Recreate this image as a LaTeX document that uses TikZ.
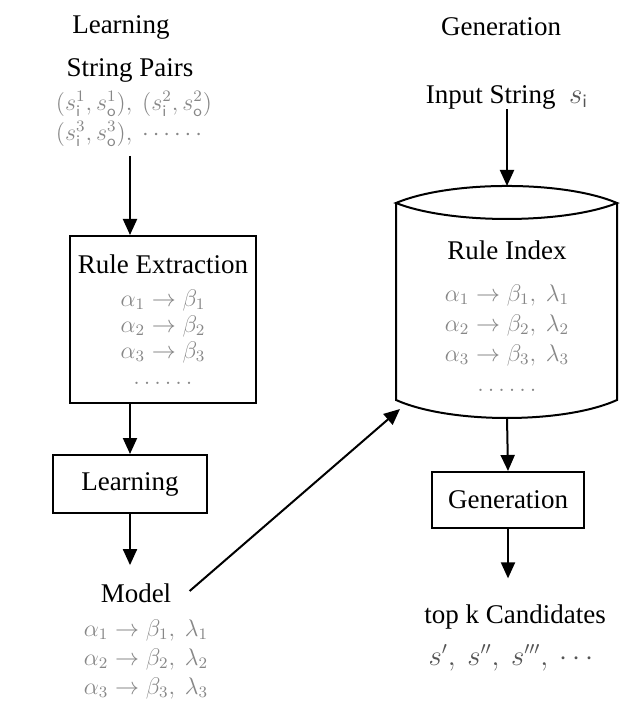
\documentclass[tikz,border=0pt]{standalone}
\usepackage{fontspec}
\setmainfont{Liberation Serif}
\usetikzlibrary{arrows.meta}
\definecolor{mathgray}{RGB}{135,135,135}
\definecolor{darkmath}{RGB}{85,85,85}
\begin{document}
\begin{tikzpicture}[x=0.5pt,y=-0.5pt,
  lbl/.style={font=\fontsize{13.5}{16}\selectfont, inner sep=0pt},
  mth/.style={font=\fontsize{11.5}{13}\selectfont, text=mathgray, inner sep=0pt, align=center},
  boxst/.style={draw, line width=1pt, inner sep=0pt},
  arr/.style={line width=1pt, -{Triangle[width=7pt,length=8pt]}},
  cylline/.style={line width=1pt}]
\useasboundingbox (0,0) rectangle (619,704);

% headers
\node[lbl] (hlearn) at (121,27) {Learning};
\node[lbl] (hgen) at (501,27) {Generation};

% ---------- Learning column ----------
\node[lbl] (pairstitle) at (130,70) {String Pairs};
\node[mth, align=left, font=\fontsize{11.5}{15}\selectfont] (pairs) at (134,119)
  {$(s_{\mathsf{i}}^1, s_{\mathsf{o}}^1),\ (s_{\mathsf{i}}^2, s_{\mathsf{o}}^2)$\\
   $(s_{\mathsf{i}}^3, s_{\mathsf{o}}^3),\ \cdots\cdots$};
\coordinate (pairsout) at (130,156);

\node[boxst, minimum width=93pt, minimum height=83.5pt] (ruleext) at (163,319.5) {};
\node[lbl] (ruletitle) at (163,264) {Rule Extraction};
\node[mth] (rulemath) at (163,337)
  {$\alpha_1\rightarrow\beta_1$\\ $\alpha_2\rightarrow\beta_2$\\ $\alpha_3\rightarrow\beta_3$\\ $\ldots\ldots$};

\node[boxst, lbl, minimum width=77pt, minimum height=29pt] (learnbox) at (130,484) {Learning};

\node[lbl] (model) at (136,593) {Model};
\node[mth, font=\fontsize{11.5}{14.5}\selectfont] (modelmath) at (146,659)
  {$\alpha_1\rightarrow\beta_1,\ \lambda_1$\\ $\alpha_2\rightarrow\beta_2,\ \lambda_2$\\ $\alpha_3\rightarrow\beta_3,\ \lambda_3$};

\draw[arr] (pairsout) -- (pairsout |- ruleext.north);
\draw[arr] (ruleext.south -| learnbox) -- (learnbox.north);
\draw[arr] (learnbox.south) -- ([yshift=9pt]model.north -| learnbox.south);

% ---------- Generation column ----------
\node[lbl] (input) at (507,97) {Input String \ $\textcolor{darkmath}{s_{\mathsf{i}}}$};

% cylinder (Rule Index)
\coordinate (cyltop) at (507,186);
\coordinate (cylbot) at (507,418);
\coordinate (cylbl) at (400,409);
\draw[cylline, fill=white] (396,203) .. controls (450,180.3) and (564,180.3) .. (617,203)
      .. controls (564,224.3) and (450,224.3) .. (396,203) -- cycle;
\draw[cylline] (396,203) -- (396,400) .. controls (450,424) and (564,424) .. (617,400) -- (617,203);
\node[lbl] (indextitle) at (507,250) {Rule Index};
\node[mth, font=\fontsize{11.5}{15}\selectfont] (indexmath) at (507,338)
  {$\alpha_1\rightarrow\beta_1,\ \lambda_1$\\ $\alpha_2\rightarrow\beta_2,\ \lambda_2$\\ $\alpha_3\rightarrow\beta_3,\ \lambda_3$\\ $\ldots\ldots$};

\node[boxst, lbl, minimum width=76pt, minimum height=28pt] (genbox) at (508,500) {Generation};

\node[lbl] (cand) at (515,617) {top k Candidates};
\node[lbl, text=darkmath] (slist) at (511,658) {$s',\ s'',\ s''',\ \cdots$};

\draw[arr] (input.south) -- (cyltop);
\draw[arr] (cylbot) -- (genbox.north);
\draw[arr] (genbox.south) -- ([yshift=13pt]cand.north -| genbox.south);

% Model -> Rule Index
\draw[arr] ([xshift=9pt,yshift=1pt]model.east) -- (cylbl);
\end{tikzpicture}
\end{document}
